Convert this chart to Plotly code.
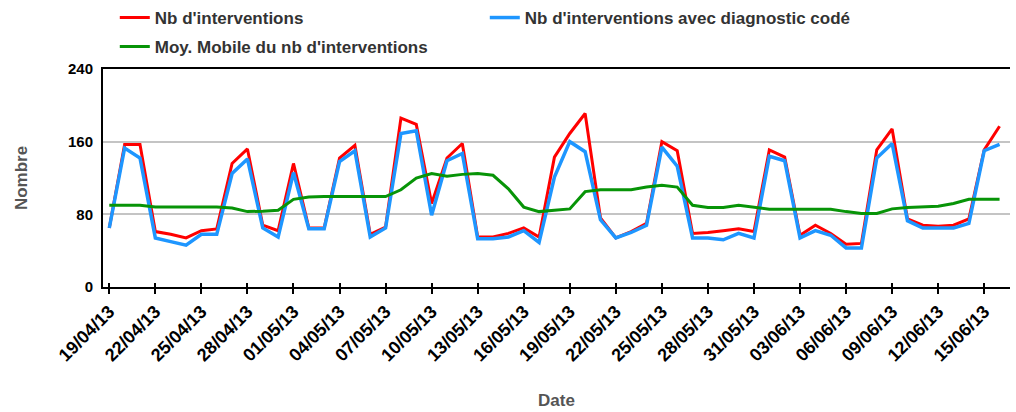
import plotly.graph_objects as go
import pandas as pd

dates = pd.date_range("2013-04-19", periods=59, freq="D")

nb_interventions = [65, 157, 157, 61, 58, 54, 62, 64, 136, 152,
                    68, 62, 136, 65, 65, 142, 156, 58, 66, 186,
                    179, 92, 142, 158, 55, 55, 59, 65, 55, 143,
                    169, 191, 76, 54, 61, 70, 160, 150, 59, 60,
                    62, 64, 61, 151, 143, 57, 68, 59, 47, 48,
                    151, 174, 75, 68, 67, 68, 75, 151, 177]

nb_diag_code = [65, 153, 142, 54, 50, 46, 58, 58, 125, 141,
                65, 55, 126, 64, 64, 138, 150, 55, 65, 169,
                172, 79, 139, 147, 53, 53, 55, 62, 49, 121,
                160, 149, 74, 54, 60, 68, 154, 133, 54, 54,
                52, 59, 54, 144, 139, 54, 62, 57, 43, 43,
                142, 158, 73, 65, 65, 65, 70, 150, 157]

moy_mobile = [90, 90, 90, 88, 88, 88, 88, 88, 87, 83,
              83.5, 84.5, 96.5, 99, 99.5, 99.5, 99.5, 99.5, 99.5, 107,
              120, 125, 122, 124, 125, 123, 108, 88, 83, 84.5,
              86, 105, 107, 107, 107, 110, 112, 110, 90, 87.5,
              87.5, 90, 87.5, 85.6, 85.6, 85.6, 85.6, 85.6, 83, 81,
              81, 86, 87.5, 88.5, 89, 92, 96.6, 96.6, 96.6]

y_ticks = [0, 80, 160, 240]

FONT = "Liberation Sans"

fig = go.Figure()
fig.add_trace(go.Scatter(x=dates, y=nb_interventions, mode="lines",
                         name="Nb d'interventions",
                         line=dict(color="#ff0000", width=3), legend="legend"))
fig.add_trace(go.Scatter(x=dates, y=nb_diag_code, mode="lines",
                         name="Nb d'interventions avec diagnostic codé",
                         line=dict(color="#1e96ff", width=3.5), legend="legend"))
fig.add_trace(go.Scatter(x=dates, y=moy_mobile, mode="lines",
                         name="Moy. Mobile du nb d'interventions",
                         line=dict(color="#079407", width=3), legend="legend2"))

legend_font = dict(family=FONT, size=17, color="#333333", weight="bold")

fig.update_layout(
    width=1016, height=412,
    margin=dict(l=103, r=6, t=69, b=125, autoexpand=False),
    paper_bgcolor="white", plot_bgcolor="white",
    font=dict(family=FONT, size=15, color="black", weight="bold"),
    legend=dict(orientation="h", x=0.013, xanchor="left", y=1 - 18 / 412, yanchor="middle",
                yref="container", font=legend_font, entrywidth=325, itemwidth=30,
                bgcolor="rgba(0,0,0,0)"),
    legend2=dict(orientation="h", x=0.013, xanchor="left", y=1 - 47 / 412, yanchor="middle",
                 yref="container", font=legend_font, itemwidth=30,
                 bgcolor="rgba(0,0,0,0)"),
    showlegend=True,
)

fig.update_xaxes(
    type="date",
    range=["2013-04-18 14:10", "2013-06-16 16:19"],
    tick0="2013-04-19", dtick=3 * 86400000,
    tickformat="%d/%m/%y", tickangle=-45,
    ticks="outside", ticklen=5, tickwidth=2, tickcolor="black",
    minor=dict(ticks="inside", ticklen=4, tickwidth=2, tickcolor="black",
               tick0="2013-04-19", dtick=3 * 86400000, showgrid=False),
    showline=True, linecolor="black", linewidth=2, mirror=True,
    showgrid=False, zeroline=False, automargin=False,
    tickfont=dict(family=FONT, size=18, color="black", weight="bold"),
    title=dict(text="Date", standoff=30,
               font=dict(family=FONT, size=17, color="#555555", weight="bold")),
)

fig.update_yaxes(
    range=[0, 240], tickvals=y_ticks, ticktext=[str(v) for v in y_ticks],
    showline=True, linecolor="black", linewidth=2,
    showgrid=True, gridcolor="#c4c4c4", gridwidth=2,
    zeroline=False, ticks="", ticklabelstandoff=5, automargin=False,
    tickfont=dict(family=FONT, size=15, color="black", weight="bold"),
    title=dict(text="Nombre", standoff=36,
               font=dict(family=FONT, size=17, color="#555555", weight="bold")),
)

fig.write_html("out.html", config={"displayModeBar": False},
               post_script="document.body.style.margin='0px';document.body.style.overflow='hidden';")
